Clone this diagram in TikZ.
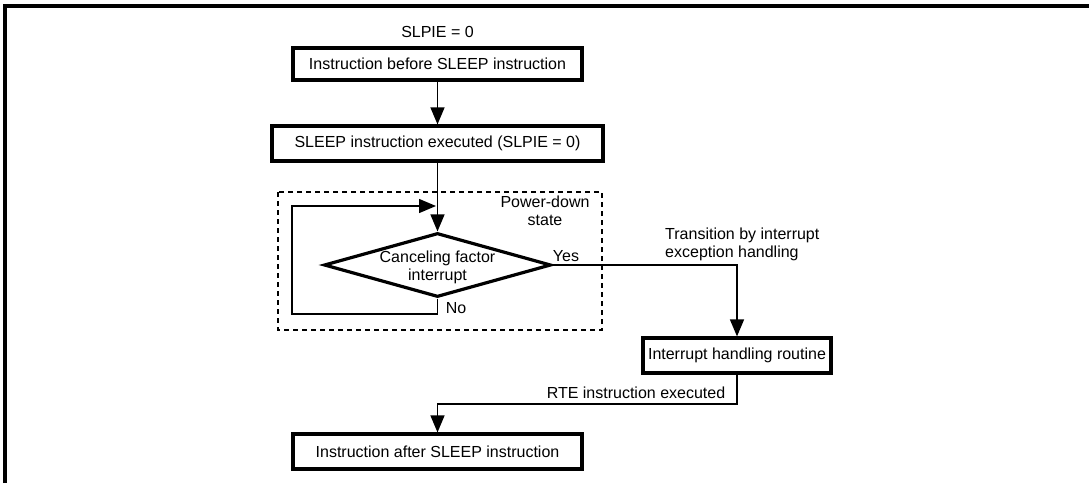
\documentclass[tikz,border=0pt]{standalone}
\usepackage{fontspec}
\setmainfont{Liberation Sans}
\usetikzlibrary{arrows.meta,shapes.geometric}
\begin{document}
\begin{tikzpicture}[x=1pt,y=-1pt,
  box/.style={draw, line width=3.2pt, inner sep=0pt, font=\fontsize{16}{18}\selectfont},
  lbl/.style={font=\fontsize{16}{18}\selectfont, inner sep=0pt},
  conn/.style={line width=1.4pt, -{Triangle[length=17pt,width=14pt]}},
  zone/.style={line width=1.1pt, dash pattern=on 5pt off 4pt}]
\useasboundingbox (0,0) rectangle (1089,483);
\draw[line width=3.2pt] (5,483) -- (5,6) -- (1089,6);

% dashed power-down region
\draw[zone] (278,192) rectangle (602,330);

% boxes
\node[box, minimum width=289pt, minimum height=32pt] (b1) at (437.5,64) {Instruction before SLEEP instruction};
\node[box, minimum width=331pt, minimum height=35pt] (b2) at (437.5,143.5) {SLEEP instruction executed (SLPIE = 0)};
\node[draw, diamond, line width=3.2pt, minimum width=227pt, minimum height=64pt, inner sep=0pt] (dec) at (437.5,265) {};
\node[lbl, align=center] (dectxt) at (437.5,267.5) {Canceling factor\\interrupt};
\node[box, minimum width=188pt, minimum height=35pt] (b3) at (737,355.5) {Interrupt handling routine};
\node[box, minimum width=289pt, minimum height=35pt] (b4) at (437.5,451.5) {Instruction after SLEEP instruction};

% labels
\node[lbl] (slpie) at (437.5,32) {SLPIE = 0};
\node[lbl, align=center] (pd) at (545,211) {Power-down\\state};
\node[lbl] (yes) at (566,256) {Yes};
\node[lbl] (no) at (456,308) {No};
\node[lbl, align=left, anchor=west] (trans) at (665,244) {Transition by interrupt\\exception handling};
\node[lbl] (rtetxt) at (636,393) {RTE instruction executed};

% coordinates
\coordinate (loopBL) at (292,314);
\coordinate (loopEnd) at (436,206);
\coordinate (rte) at (437.5,404);

% connectors
\draw[conn] (b1) -- (b2);
\draw[conn] (b2) -- (dec.north);
\draw[conn] (dec.south) |- (loopBL) |- (loopEnd);
\draw[conn] (dec.east) -| (b3.north);
\draw[conn] (b3.south) |- (rte) -- (b4.north);
\end{tikzpicture}
\end{document}
